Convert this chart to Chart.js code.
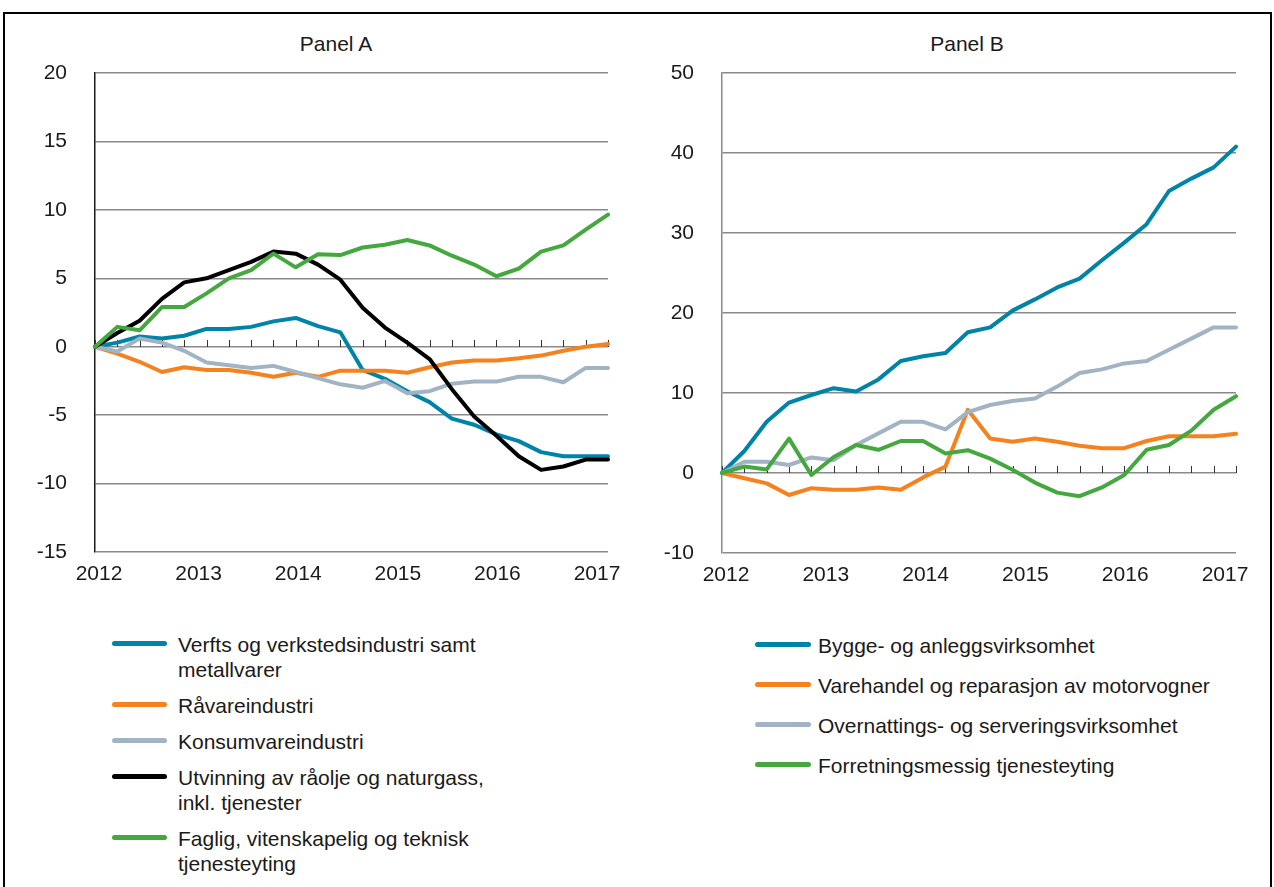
<!DOCTYPE html>
<html>
<head>
<meta charset="utf-8">
<script src="https://cdn.jsdelivr.net/npm/chart.js@4/dist/chart.umd.min.js"></script>
<style>
  body { margin: 0; background: #fff; font-family: "Liberation Sans", Arial, sans-serif; color: #1a1a1a; }
  #frame { position: absolute; left: 3px; top: 12px; width: 1265px; height: 900px; border: 2px solid #000; border-bottom: none; }
  .title { position: absolute; top: 31px; width: 300px; font-size: 21px; line-height: 25px; text-align: center; }
  canvas { position: absolute; top: 14px; }
  .legend { position: absolute; font-size: 21px; line-height: 25px; }
  .item { display: flex; align-items: flex-start; }
  .swatch { flex: none; height: 5px; border-radius: 3px; margin-top: 8.5px; }
</style>
</head>
<body>
<div id="frame"></div>
<div class="title" style="left:186px">Panel A</div>
<div class="title" style="left:817px">Panel B</div>
<canvas id="chartA" width="636" height="586" style="left:4px"></canvas>
<canvas id="chartB" width="634" height="586" style="left:640px"></canvas>
<div class="legend" id="legendA" style="left:112px;top:632px"></div>
<div class="legend" id="legendB" style="left:755px;top:633px"></div>
<script>
// kvartaler
var kvartaler = ["2012K1","2012K2","2012K3","2012K4","2013K1","2013K2","2013K3","2013K4",
  "2014K1","2014K2","2014K3","2014K4","2015K1","2015K2","2015K3","2015K4",
  "2016K1","2016K2","2016K3","2016K4","2017K1","2017K2","2017K3","2017K4"];

// Panel A
var verfts = [0, 0.3, 0.75, 0.6, 0.8, 1.3, 1.3, 1.45, 1.85, 2.1, 1.5, 1.05, -1.7, -2.35, -3.25, -4.05, -5.25, -5.7, -6.4, -6.9, -7.7, -8.0, -8.0, -8.0];
var raavare = [0, -0.5, -1.1, -1.85, -1.5, -1.7, -1.7, -1.9, -2.2, -1.9, -2.2, -1.75, -1.75, -1.75, -1.9, -1.5, -1.15, -1.0, -1.0, -0.85, -0.65, -0.3, 0.0, 0.2];
var konsum = [0, -0.35, 0.6, 0.3, -0.3, -1.15, -1.35, -1.55, -1.4, -1.85, -2.3, -2.75, -3.0, -2.5, -3.4, -3.25, -2.7, -2.55, -2.55, -2.2, -2.2, -2.6, -1.55, -1.55];
var utvinning = [0, 1.0, 1.9, 3.5, 4.7, 5.0, 5.6, 6.2, 6.95, 6.8, 6.0, 4.9, 2.85, 1.4, 0.3, -0.9, -3.1, -5.1, -6.5, -8.0, -9.0, -8.75, -8.25, -8.25];
var faglig = [0, 1.45, 1.2, 2.9, 2.9, 3.9, 5.0, 5.6, 6.8, 5.8, 6.75, 6.7, 7.25, 7.45, 7.8, 7.4, 6.65, 6.0, 5.15, 5.7, 6.95, 7.4, 8.55, 9.65];

// Panel B
var bygge = [0, 2.75, 6.4, 8.8, 9.75, 10.6, 10.2, 11.7, 14.0, 14.6, 15.0, 17.6, 18.2, 20.3, 21.7, 23.2, 24.3, 26.6, 28.8, 31.1, 35.25, 36.8, 38.2, 40.8];
var varehandel = [0, -0.65, -1.3, -2.75, -1.9, -2.1, -2.1, -1.8, -2.1, -0.55, 0.8, 7.9, 4.3, 3.9, 4.3, 3.9, 3.4, 3.1, 3.1, 4.0, 4.6, 4.6, 4.6, 4.9];
var overnatting = [0, 1.4, 1.4, 1.0, 1.95, 1.6, 3.5, 4.95, 6.4, 6.4, 5.45, 7.6, 8.5, 9.0, 9.3, 10.8, 12.5, 12.95, 13.7, 14.0, 15.4, 16.8, 18.2, 18.2];
var forretning = [0, 0.8, 0.45, 4.3, -0.25, 2.0, 3.5, 2.9, 4.0, 4.0, 2.45, 2.85, 1.8, 0.4, -1.2, -2.45, -2.9, -1.8, -0.25, 2.9, 3.5, 5.3, 7.9, 9.6];

var navnA = [["Verfts og verkstedsindustri samt", "metallvarer"], ["Råvareindustri"], ["Konsumvareindustri"],
  ["Utvinning av råolje og naturgass,", "inkl. tjenester"], ["Faglig, vitenskapelig og teknisk", "tjenesteyting"]];
var navnB = [["Bygge- og anleggsvirksomhet"], ["Varehandel og reparasjon av motorvogner"],
  ["Overnattings- og serveringsvirksomhet"], ["Forretningsmessig tjenesteyting"]];
var aarstall = [2012, 2013, 2014, 2015, 2016, 2017];

var fargerA = ["#0083A9", "#F5821F", "#A2B3C3", "#000000", "#44A83F"];
var fargerB = ["#0083A9", "#F5821F", "#A2B3C3", "#44A83F"];

var fontFam = '"Liberation Sans", Arial, sans-serif';

// små streker på nullinja
var nullStreker = {
  id: 'nullStreker',
  beforeDatasetsDraw: function(chart) {
    var ctx = chart.ctx, x = chart.scales.x, y = chart.scales.y;
    var y0 = Math.round(y.getPixelForValue(0));
    ctx.save();
    ctx.strokeStyle = '#333';
    ctx.lineWidth = 1;
    for (var i = 0; i < chart.data.labels.length; i++) {
      var px = Math.round(x.getPixelForValue(i)) + 0.5;
      ctx.beginPath();
      ctx.moveTo(px, y0 - 7);
      ctx.lineTo(px, y0);
      ctx.stroke();
    }
    ctx.restore();
  }
};

function lagFigur(id, serier, navn, farger, ymin, ymax, steg, aksefarge, yBredde, hoyrePad, xHoyde) {
  var datasets = serier.map(function(s, i) {
    return {
      label: navn[i].join(' '),
      data: s,
      borderColor: farger[i],
      backgroundColor: farger[i],
      borderWidth: 4,
      pointRadius: 0,
      tension: 0,
      fill: false,
      borderJoinStyle: 'round',
      borderCapStyle: 'round',
      order: serier.length - i
    };
  });
  return new Chart(document.getElementById(id), {
    type: 'line',
    data: { labels: kvartaler, datasets: datasets },
    options: {
      responsive: false,
      animation: false,
      layout: { padding: { top: 59, right: hoyrePad, bottom: 0, left: 0 } },
      plugins: { legend: { display: false }, tooltip: { enabled: false } },
      scales: {
        x: { type: 'category', display: false },
        x2: {
          type: 'linear', position: 'bottom',
          min: aarstall[0] - 0.04, max: aarstall[aarstall.length - 1] + 0.11,
          grid: { display: false, drawTicks: false },
          border: { display: false },
          ticks: {
            stepSize: 1, includeBounds: false, autoSkip: false, maxRotation: 0, padding: 10,
            color: '#1a1a1a', font: { size: 21, family: fontFam },
            callback: function(v) { return String(v); }
          },
          afterFit: function(s) { s.height = xHoyde; }
        },
        y: {
          min: ymin, max: ymax,
          ticks: { stepSize: steg, padding: 28, color: '#1a1a1a', font: { size: 21, family: fontFam } },
          grid: { color: '#8a8a8a', lineWidth: 1.5, drawTicks: false },
          border: { color: aksefarge, width: 1.5 },
          afterFit: function(s) { s.width = yBredde; }
        }
      }
    },
    plugins: [nullStreker]
  });
}

function lagLegende(id, navn, farger, strek, mellom, luft) {
  var el = document.getElementById(id);
  navn.forEach(function(linjer, i) {
    var item = document.createElement('div');
    item.className = 'item';
    item.style.marginBottom = luft + 'px';
    var sw = document.createElement('div');
    sw.className = 'swatch';
    sw.style.width = strek + 'px';
    sw.style.marginRight = mellom + 'px';
    sw.style.background = farger[i];
    var txt = document.createElement('div');
    txt.innerHTML = linjer.join('<br>');
    item.appendChild(sw);
    item.appendChild(txt);
    el.appendChild(item);
  });
}

lagFigur('chartA', [verfts, raavare, konsum, utvinning, faglig], navnA, fargerA, -15, 20, 5, '#1a1a1a', 91, 32, 48);
lagFigur('chartB', [bygge, varehandel, overnatting, forretning], navnB, fargerB, -10, 50, 10, '#8a8a8a', 82, 38, 47);
lagLegende('legendA', navnA, fargerA, 55, 11, 11);
lagLegende('legendB', navnB, fargerB, 56, 7, 15);
</script>
</body>
</html>
